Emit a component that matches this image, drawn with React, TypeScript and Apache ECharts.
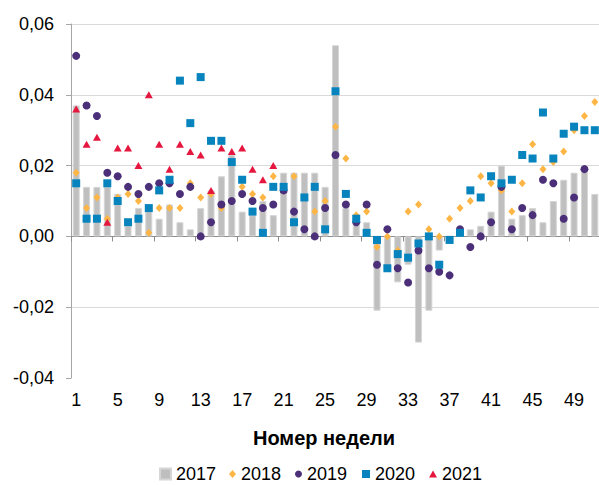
import React, { useEffect, useRef } from "react";
import * as echarts from "echarts";

const weeks: string[] = Array.from({ length: 51 }, (_, i) => String(i + 1));

const y2017: (number | null)[] = [
  0.037, 0.014, 0.014, 0.014, 0.012, 0.003, 0.008, 0.008, 0.005, 0.009,
  0.004, 0.002, 0.008, 0.013, 0.017, 0.023, 0.007, 0.006, 0.010, 0.006,
  0.018, 0.018, 0.018, 0.018, 0.014, 0.054, 0.008, 0.004, 0.004, -0.021,
  -0.009, -0.013, -0.008, -0.030, -0.021, -0.004, 0, 0, 0.002, 0.003,
  0.007, 0.020, 0.005, 0.006, 0.008, 0.004, 0.010, 0.016, 0.018, 0.020,
  0.012,
];

const y2018: (number | null)[] = [
  0.018, 0.008, 0.011, 0.005, 0.011, 0.012, 0.010, 0.001, 0.008, 0.008,
  0.008, 0.015, 0.011, 0.012, 0.008, null, 0.014, 0.012, 0.011, 0.017,
  null, 0.017, null, 0.007, 0.010, 0.031, 0.022, 0.006, 0.007, -0.003,
  0.000, -0.004, 0.007, 0.009, 0.002, 0.000, 0.005, 0.008, 0.010, 0.017,
  0.015, 0.013, 0.007, 0.015, 0.026, 0.019, 0.021, 0.024, 0.030, 0.034,
  0.038,
];

const y2019: (number | null)[] = [
  0.051, 0.037, 0.034, 0.018, 0.017, 0.014, 0.012, 0.014, 0.015, 0.015,
  0.012, 0.014, 0.000, 0.004, 0.009, 0.010, 0.012, 0.010, 0.008, 0.009,
  0.013, 0.007, 0.002, 0.000, 0.008, 0.023, 0.009, 0.004, 0.009, -0.008,
  0.002, -0.009, -0.013, -0.004, -0.009, -0.010, -0.011, 0.002, -0.003, 0.000,
  0.004, 0.014, 0.002, 0.008, 0.006, 0.016, 0.015, 0.005, 0.011, 0.019,
  null,
];

const y2020: (number | null)[] = [
  0.015, 0.005, 0.005, 0.015, 0.010, 0.004, 0.005, 0.008, 0.013, 0.016,
  0.044, 0.032, 0.045, 0.027, 0.027, 0.021, 0.016, 0.007, 0.001, 0.014,
  0.014, 0.004, 0.011, 0.014, 0.002, 0.041, 0.012, 0.005, 0.001, -0.001,
  -0.009, -0.005, -0.006, -0.002, 0.000, -0.008, -0.001, 0.001, 0.013, 0.011,
  0.017, 0.015, 0.016, 0.023, 0.022, 0.035, 0.022, 0.029, 0.031, 0.030,
  0.030,
];

const y2021: (number | null)[] = [
  0.036, 0.026, 0.028, 0.004, 0.025, 0.025, 0.020, 0.040, 0.026, 0.019,
  0.026, 0.024, 0.023, 0.013, 0.025, 0.024, 0.025, 0.019, 0.016, 0.020,
];

const yTicks = { min: -0.04, max: 0.06, interval: 0.02 };
const xTitle = "Номер недели";

const FONT = "'Liberation Sans', Arial, sans-serif";

export default function App() {
  const ref = useRef<HTMLDivElement>(null);
  useEffect(() => {
    if (!ref.current) return;
    const chart = echarts.init(ref.current, undefined, { renderer: "svg" });
    const legendBase = {
      top: 465,
      padding: 0,
      itemGap: 0,
      textStyle: { fontSize: 18, color: "#000", fontFamily: FONT },
      selectedMode: false,
    };
    chart.setOption({
      animation: false,
      textStyle: { fontFamily: FONT },
      grid: { left: 71, right: -1, top: 24, bottom: 107, outerBoundsMode: "none" },
      graphic: [
        {
          type: "text",
          x: 324,
          y: 438,
          silent: true,
          style: {
            text: xTitle,
            fill: "#000",
            font: "bold 20px 'Liberation Sans', Arial, sans-serif",
            align: "center",
            verticalAlign: "middle",
          },
        },
      ],
      xAxis: [
        {
          type: "category",
          data: weeks,
          position: "bottom",
          axisLine: { show: false, onZero: false },
          axisTick: { show: false },
          axisLabel: { interval: 3, fontSize: 18, color: "#000", margin: 13, fontFamily: FONT },
        },
        {
          type: "category",
          data: weeks,
          position: "bottom",
          axisLine: { show: true, onZero: true, lineStyle: { color: "#8c8c8c", width: 1 } },
          axisTick: { show: true, interval: 3, length: 5, lineStyle: { color: "#8c8c8c" } },
          axisLabel: { show: false },
        },
      ],
      yAxis: {
        type: "value",
        min: yTicks.min,
        max: yTicks.max,
        interval: yTicks.interval,
        axisLine: { show: true, lineStyle: { color: "#a6a6a6" } },
        axisTick: { show: true, length: 5, lineStyle: { color: "#a6a6a6" } },
        splitLine: { show: true, showMinLine: false, lineStyle: { color: "#d9d9d9" } },
        axisLabel: {
          fontSize: 18,
          color: "#000",
          margin: 17,
          fontFamily: FONT,
          formatter: (v: number) => v.toFixed(2).replace(".", ","),
        },
      },
      legend: [
        { ...legendBase, left: 159, data: ["2017"], icon: "rect", itemWidth: 11, itemHeight: 11 },
        { ...legendBase, left: 229, data: ["2018"], icon: "diamond", itemWidth: 7, itemHeight: 8 },
        { ...legendBase, left: 295, data: ["2019"], icon: "circle", itemWidth: 7, itemHeight: 7 },
        { ...legendBase, left: 362, data: ["2020"], icon: "rect", itemWidth: 8, itemHeight: 8 },
        { ...legendBase, left: 429, data: ["2021"], icon: "triangle", itemWidth: 8, itemHeight: 7 },
      ],
      series: [
        {
          name: "2017",
          type: "bar",
          data: y2017,
          barWidth: 7,
          itemStyle: { color: "#bfbfbf", borderColor: "#d6d6d6", borderWidth: 1 },
        },
        {
          name: "2018",
          type: "scatter",
          data: y2018,
          symbol: "diamond",
          symbolSize: [7, 8],
          itemStyle: { color: "#fdb645", opacity: 1 },
        },
        {
          name: "2019",
          type: "scatter",
          data: y2019,
          symbol: "circle",
          symbolSize: 8,
          itemStyle: { color: "#4b3079", opacity: 1 },
        },
        {
          name: "2020",
          type: "scatter",
          data: y2020,
          symbol: "rect",
          symbolSize: 8,
          itemStyle: { color: "#0784bd", opacity: 1 },
        },
        {
          name: "2021",
          type: "scatter",
          data: y2021,
          symbol: "triangle",
          symbolSize: [8, 7],
          itemStyle: { color: "#e5173f", opacity: 1 },
        },
      ],
    });
    return () => chart.dispose();
  }, []);
  return (
    <div
      ref={ref}
      style={{ position: "absolute", left: 0, top: 0, width: 599, height: 485 }}
    />
  );
}
